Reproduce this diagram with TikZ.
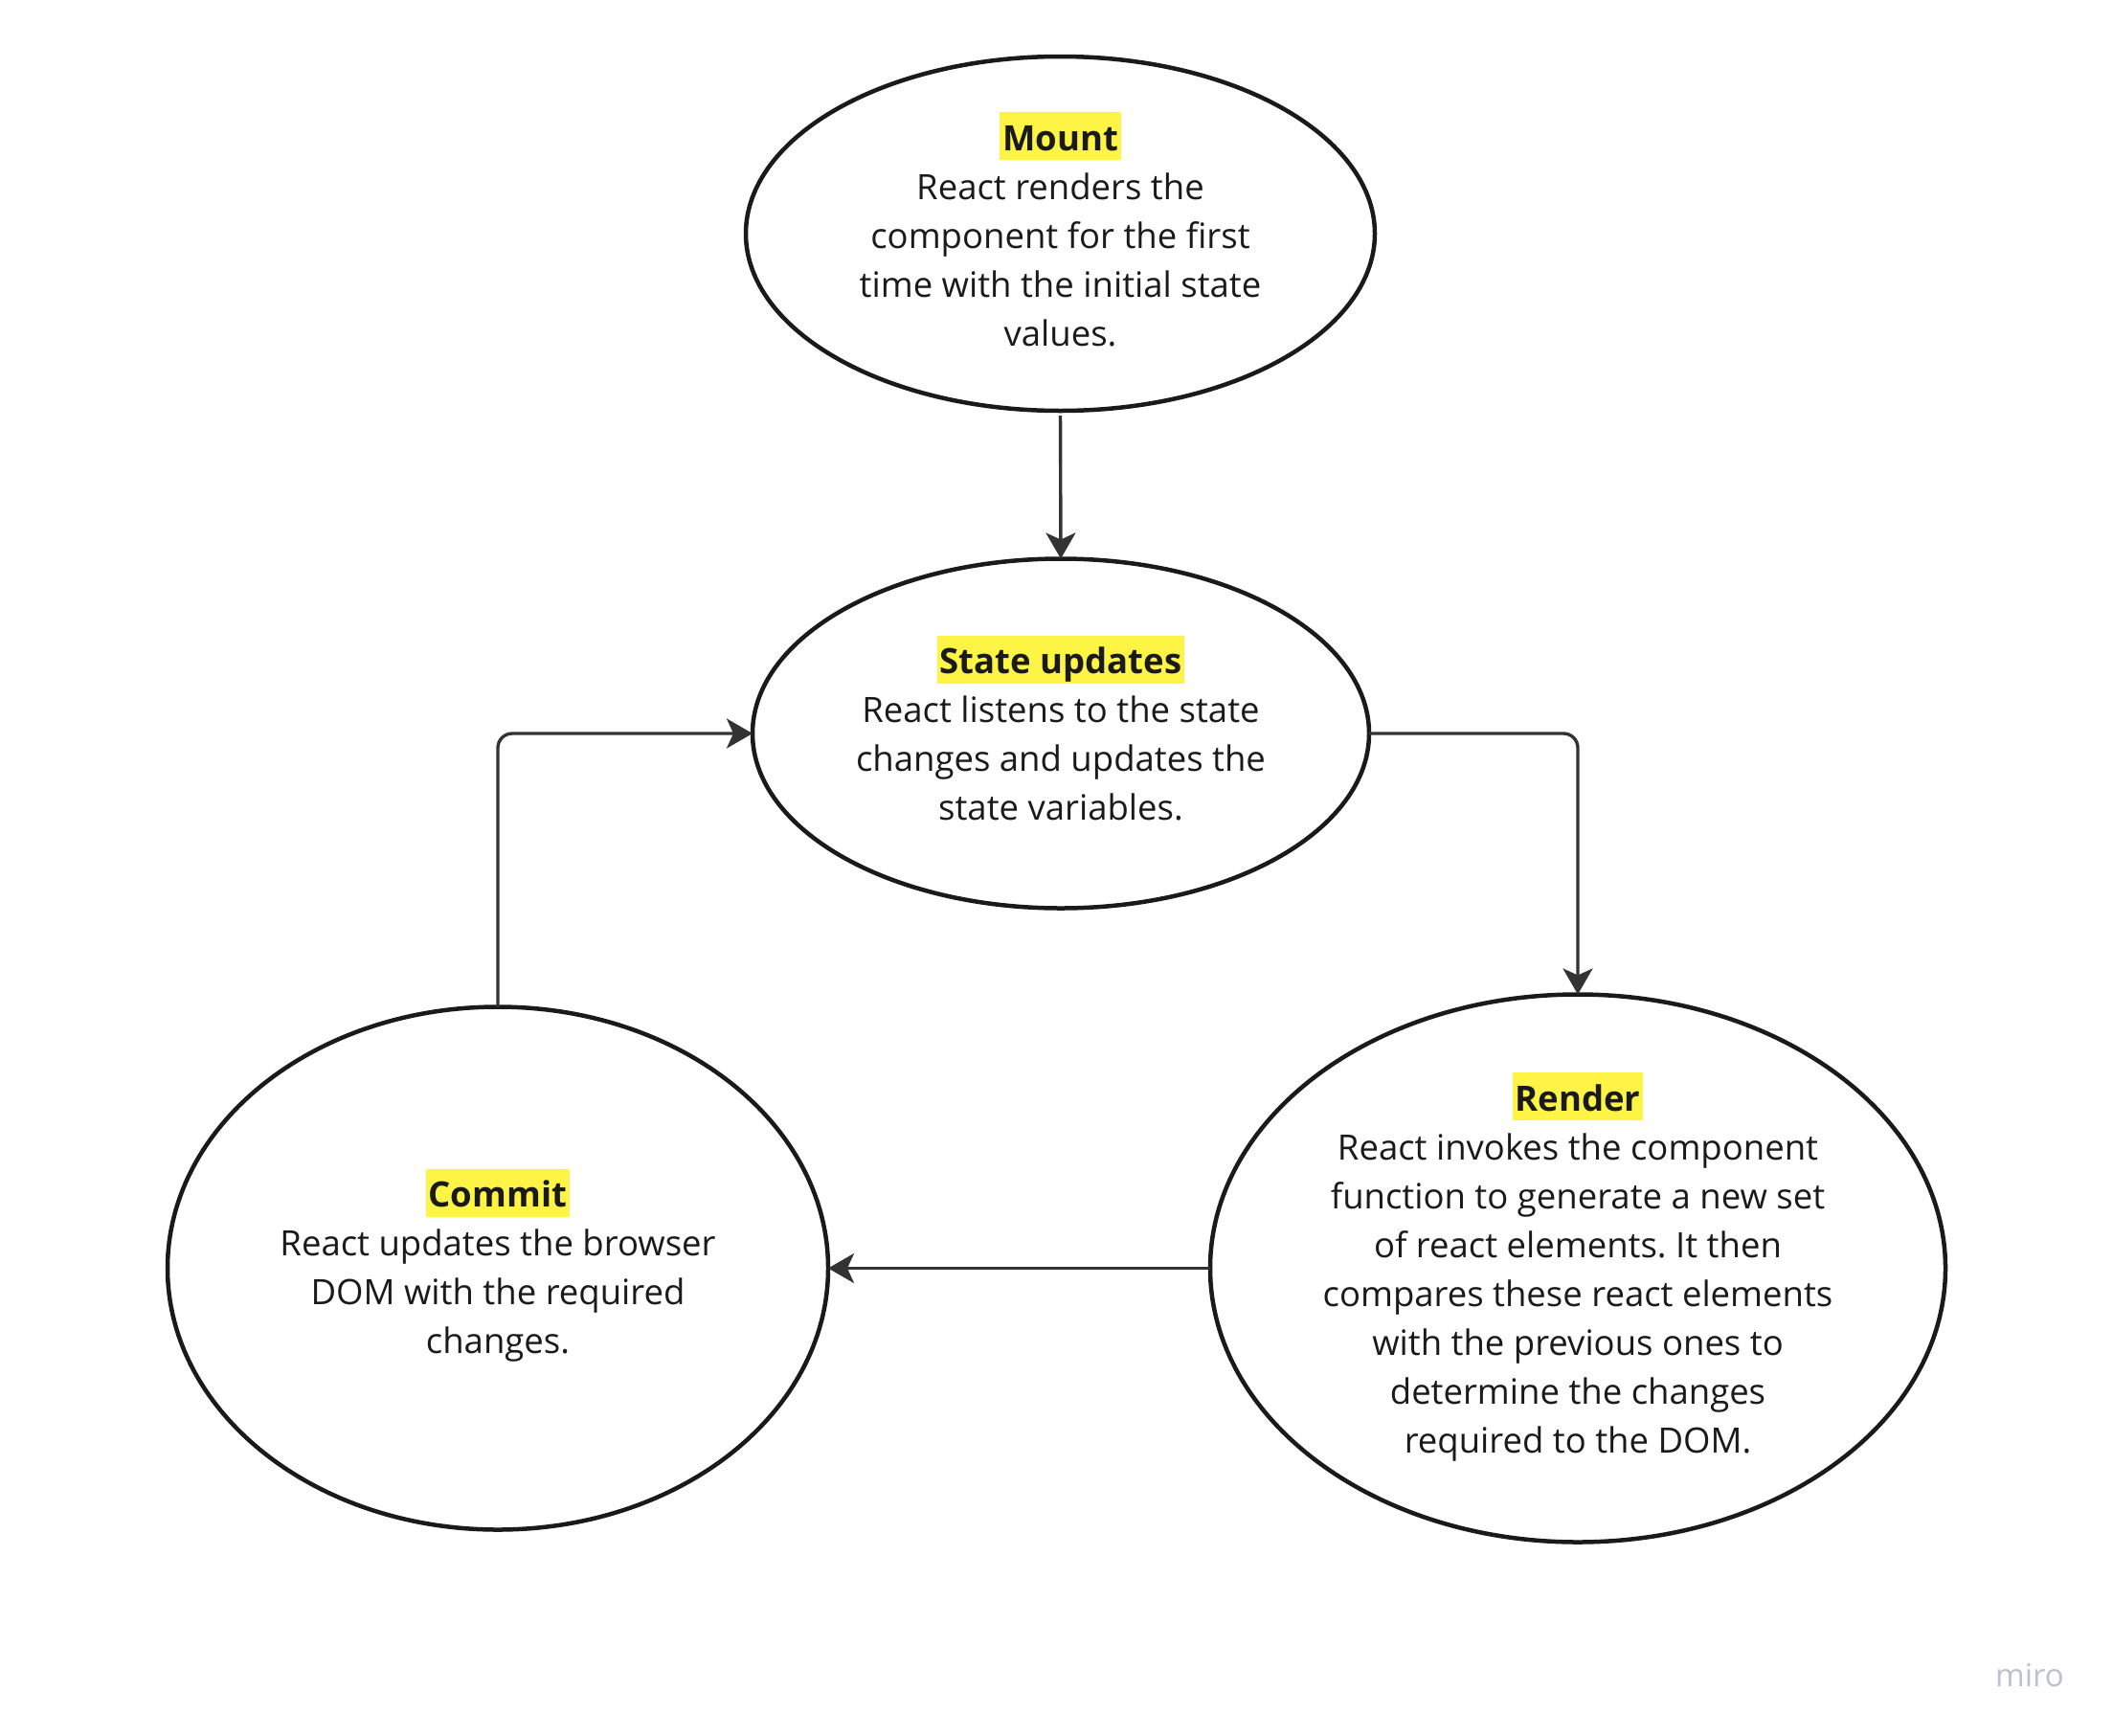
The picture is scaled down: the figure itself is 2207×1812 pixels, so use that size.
\documentclass[tikz,border=0pt]{standalone}
\usepackage{fontspec}
\setmainfont{Open Sans}
\usetikzlibrary{arrows.meta,shapes.geometric}
\definecolor{hly}{HTML}{FEF445}
\definecolor{ink}{HTML}{1A1A1A}
\definecolor{arrc}{HTML}{333333}
\definecolor{wm}{HTML}{BFC0CE}
\frenchspacing
\newcommand{\hlt}[1]{{\setlength{\fboxsep}{0pt}\colorbox{hly}{\hspace{3pt}\rule[-10pt]{0pt}{50pt}\textbf{#1}\hspace{3pt}}}}
\tikzset{
  phase/.style={draw=ink, line width=4.5pt, ellipse, inner sep=0pt, outer sep=0pt, fill=white},
  txt/.style={align=center, text=ink, font=\fontsize{36.5}{51}\selectfont, inner sep=0pt},
  arr/.style={draw=arrc, line width=3.4pt, -{Stealth[length=27pt,width=31pt,inset=7pt]}},
}
\begin{document}
\begin{tikzpicture}[x=1pt,y=-1pt]
\useasboundingbox[fill=white] (0,0) rectangle (2207,1812);
\node[phase, minimum width=657pt, minimum height=370pt] (mount) at (1107.5,244) {};
\node[phase, minimum width=644pt, minimum height=365pt] (state) at (1108,766) {};
\node[phase, minimum width=768pt, minimum height=572pt] (render) at (1648,1324.5) {};
\node[phase, minimum width=690pt, minimum height=546pt] (commit) at (520,1324.5) {};

\node[txt] (mountt) at ([yshift=4.5pt]mount.center) {\lineskiplimit=-100pt\hlt{Mount}\\React renders the\\component for the first\\time with the initial state\\values.};
\node[txt] (statet) at ([yshift=5.5pt]state.center) {\lineskiplimit=-100pt\hlt{State updates}\\React listens to the state\\changes and updates the\\state variables.};
\node[txt] (rendert) at ([yshift=1.5pt]render.center) {\lineskiplimit=-100pt\hlt{Render}\\React invokes the component\\function to generate a new set\\of react elements. It then\\compares these react elements\\with the previous ones to\\determine the changes\\required to the DOM.};
\node[txt] (committ) at ([yshift=3pt]commit.center) {\lineskiplimit=-100pt\hlt{Commit}\\React updates the browser\\DOM with the required\\changes.};

\draw[arr, shorten <=5pt] (mount.south) -- (state.north);
\draw[arr, rounded corners=15pt] (state.east) -| (render.north);
\draw[arr] (render.west) -- (commit.east);
\draw[arr, rounded corners=15pt] (commit.north) |- (state.west);

\node[text=wm, font=\fontsize{33}{38}\selectfont, anchor=center] (miro) at (2120,1750) {miro};
\end{tikzpicture}
\end{document}
